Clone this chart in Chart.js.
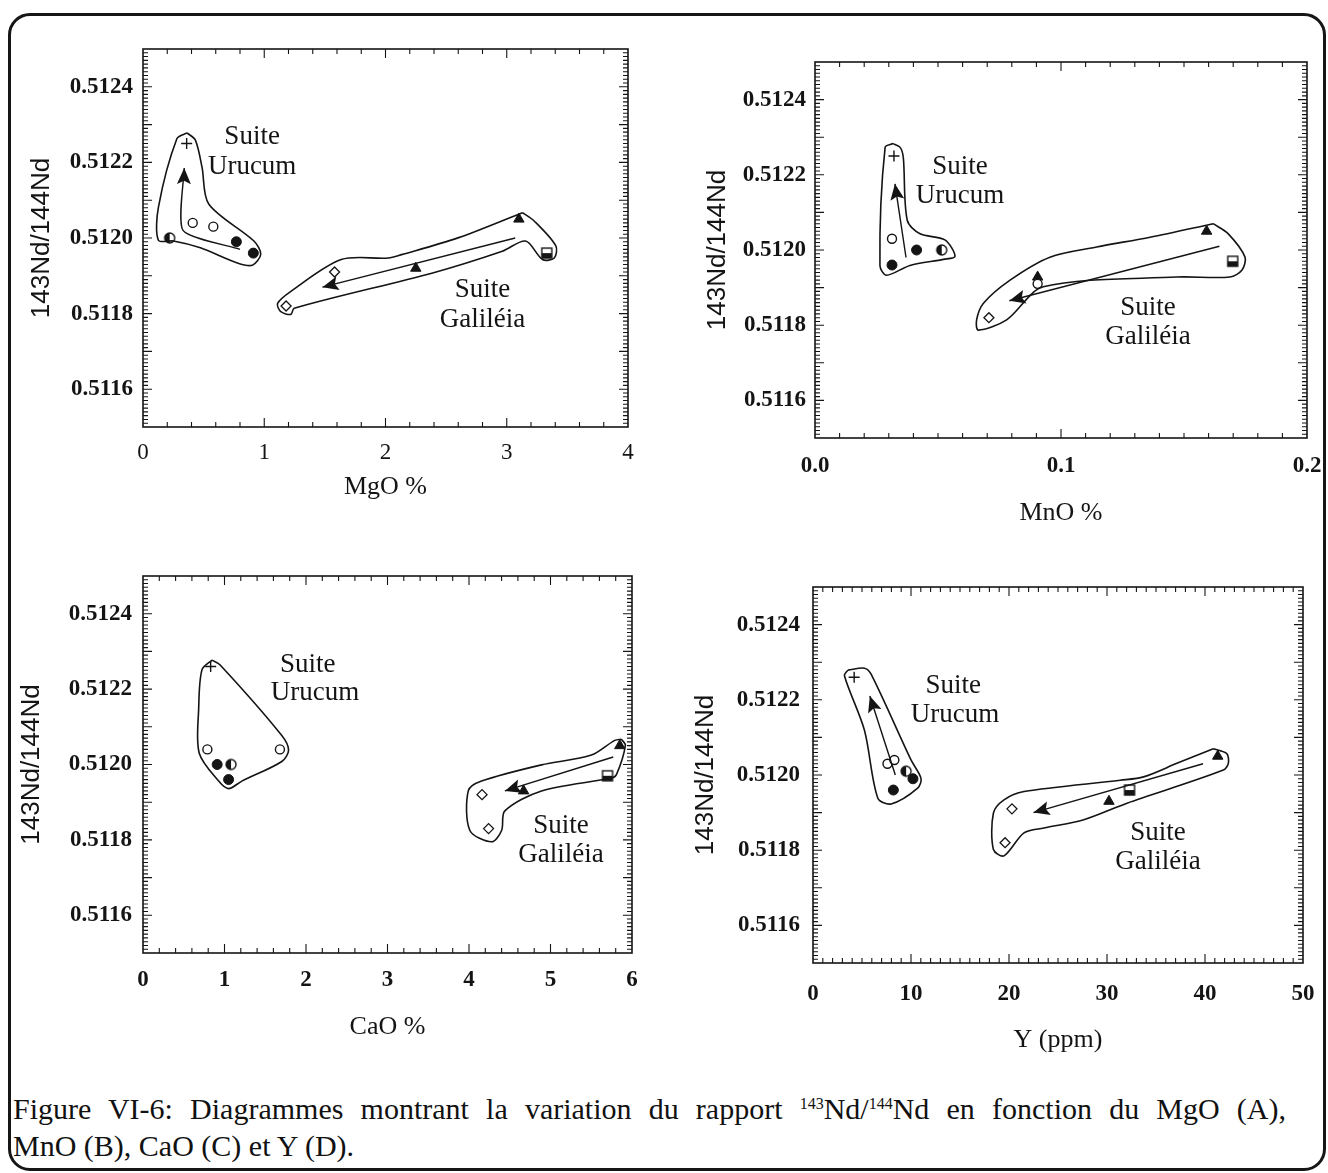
<!DOCTYPE html>
<html>
<head>
<meta charset="utf-8">
<script src="https://cdn.jsdelivr.net/npm/chart.js@4.4.1/dist/chart.umd.min.js"></script>
<style>
  html, body { margin: 0; padding: 0; background: #fff; }
  body { width: 1328px; height: 1173px; position: relative; overflow: hidden; }
  #frame { position: absolute; left: 8px; top: 13px; width: 1318px; height: 1158px;
           border: 3px solid #161616; border-radius: 22px; box-sizing: border-box; }
  canvas { position: absolute; }
  #caption { position: absolute; left: 13px; top: 1090px; color: #111; width: 1273px;
             font-family: "Liberation Serif", "Times New Roman", serif; font-size: 30px; line-height: 37px; }
  #caption .l1 { display: block; text-align: justify; text-align-last: justify; }
  #caption .l2 { display: block; }
  #caption sup { font-size: 16px; vertical-align: 10px; line-height: 0; }
</style>
</head>
<body>
<div id="frame"></div>
<canvas id="panelA"></canvas>
<canvas id="panelB"></canvas>
<canvas id="panelC"></canvas>
<canvas id="panelD"></canvas>
<div id="caption"><span class="l1">Figure VI-6: Diagrammes montrant la variation du rapport <sup>143</sup>Nd/<sup>144</sup>Nd en fonction du MgO (A),</span><span class="l2">MnO (B), CaO (C) et Y (D).</span></div>

<script>
// ---------- data ----------
const ndTicks = [0.5116, 0.5118, 0.5120, 0.5122, 0.5124];

// (A) MgO %
const mgoTicks = [0, 1, 2, 3, 4];
const mgoCross    = [[0.36, 0.51225]];
const mgoOpen     = [[0.41, 0.51204], [0.58, 0.51203]];
const mgoFilled   = [[0.77, 0.51199], [0.91, 0.51196]];
const mgoHalf     = [[0.22, 0.51200]];
const mgoDiamond  = [[1.18, 0.51182], [1.58, 0.51191]];
const mgoTriangle = [[2.25, 0.51192], [3.10, 0.51205]];
const mgoSquare   = [[3.33, 0.51196]];
const mgoUrucumTrend   = [[0.80, 0.51197], [0.33, 0.51202], [0.34, 0.512185]];
const mgoGalileiaTrend = [[3.07, 0.51200], [1.48, 0.51187]];
const mgoUrucumField = [[0.363,0.512278],[0.432,0.512259],[0.487,0.512187],[0.542,0.512090],[0.915,0.511992],[0.971,0.511957],[0.902,0.511928],[0.778,0.511934],[0.473,0.511974],[0.251,0.511992],[0.127,0.511994],[0.127,0.512081],[0.280,0.512263]];
const mgoGalileiaField = [[3.129,0.512067],[3.226,0.512045],[3.405,0.511979],[3.392,0.511947],[3.295,0.511943],[3.156,0.511992],[2.963,0.511965],[2.382,0.511907],[1.247,0.511814],[1.220,0.511798],[1.137,0.511805],[1.110,0.511827],[1.220,0.511859],[1.635,0.511943],[2.022,0.511947],[2.133,0.511956],[2.603,0.512001]];
const mgoNotes = [[0.90, 0.512267, 'Suite'], [0.90, 0.512188, 'Urucum'], [2.80, 0.511862, 'Suite'], [2.80, 0.511783, 'Galiléia']];

// (B) MnO %
const mnoTicks = [0.0, 0.1, 0.2];
const mnoCross    = [[0.0321, 0.51225]];
const mnoOpen     = [[0.0313, 0.51203], [0.0905, 0.51191]];
const mnoFilled   = [[0.0313, 0.51196], [0.0413, 0.51200]];
const mnoHalf     = [[0.0515, 0.51200]];
const mnoDiamond  = [[0.0707, 0.51182]];
const mnoTriangle = [[0.0905, 0.511928], [0.1592, 0.51205]];
const mnoSquare   = [[0.1698, 0.51197]];
const mnoUrucumTrend   = [[0.0370, 0.51198], [0.0325, 0.512176]];
const mnoGalileiaTrend = [[0.1644, 0.51201], [0.0790, 0.511865]];
const mnoUrucumField = [[0.0318,0.512283],[0.0346,0.512273],[0.0359,0.512246],[0.0375,0.512079],[0.0427,0.512043],[0.0528,0.512027],[0.0569,0.511983],[0.0522,0.511975],[0.0386,0.511959],[0.0291,0.511933],[0.0264,0.511959],[0.0285,0.512273]];
const mnoGalileiaField = [[0.1619,0.512070],[0.1680,0.512043],[0.1748,0.511981],[0.1735,0.511946],[0.1687,0.511928],[0.1470,0.511928],[0.0928,0.511902],[0.0779,0.511814],[0.0664,0.511787],[0.0657,0.511814],[0.0684,0.511858],[0.0793,0.511920],[0.0955,0.511981],[0.1145,0.512008],[0.1362,0.512034]];
const mnoNotes = [[0.0589, 0.512221, 'Suite'], [0.0589, 0.512144, 'Urucum'], [0.1354, 0.511846, 'Suite'], [0.1354, 0.511769, 'Galiléia']];

// (C) CaO %
const caoTicks = [0, 1, 2, 3, 4, 5, 6];
const caoCross    = [[0.83, 0.51226]];
const caoOpen     = [[0.79, 0.51204], [1.68, 0.51204]];
const caoFilled   = [[0.91, 0.51200], [1.05, 0.51196]];
const caoHalf     = [[1.08, 0.51200]];
const caoDiamond  = [[4.16, 0.51192], [4.24, 0.51183]];
const caoTriangle = [[4.67, 0.51193], [5.85, 0.51205]];
const caoSquare   = [[5.70, 0.51197]];
const caoUrucumTrend   = [];
const caoGalileiaTrend = [[5.77, 0.51202], [4.44, 0.51193]];
const caoUrucumField = [[0.846,0.512277],[0.947,0.512264],[1.703,0.512077],[1.786,0.512038],[1.703,0.512008],[1.213,0.511956],[1.050,0.511936],[0.928,0.511956],[0.690,0.512030],[0.683,0.512147],[0.723,0.512251]];
const caoGalileiaField = [[5.870,0.512067],[5.919,0.512051],[5.809,0.511973],[5.748,0.511964],[4.890,0.511930],[4.440,0.511877],[4.400,0.511825],[4.277,0.511795],[4.011,0.511825],[3.991,0.511930],[4.154,0.511956],[4.890,0.511999],[5.502,0.512025],[5.788,0.512064]];
const caoNotes = [[2.02, 0.512264, 'Suite'], [2.11, 0.512190, 'Urucum'], [5.13, 0.511837, 'Suite'], [5.13, 0.511760, 'Galiléia']];

// (D) Y (ppm)
const yppmTicks = [0, 10, 20, 30, 40, 50];
const yppmCross    = [[4.2, 0.51226]];
const yppmOpen     = [[7.6, 0.51203], [8.3, 0.51204]];
const yppmFilled   = [[8.2, 0.51196], [10.2, 0.51199]];
const yppmHalf     = [[9.5, 0.51201]];
const yppmDiamond  = [[20.3, 0.51191], [19.6, 0.51182]];
const yppmTriangle = [[30.2, 0.51193], [41.3, 0.51205]];
const yppmSquare   = [[32.3, 0.51196]];
const yppmUrucumTrend   = [[8.4, 0.51200], [5.8, 0.51221]];
const yppmGalileiaTrend = [[39.8, 0.51203], [22.5, 0.51190]];
const yppmUrucumField = [[3.56,0.512279],[5.25,0.512284],[5.93,0.512268],[10.00,0.512040],[11.02,0.511991],[10.68,0.511965],[7.97,0.511923],[6.61,0.511939],[5.25,0.512119],[3.21,0.512264]];
const yppmGalileiaField = [[40.85,0.512070],[42.22,0.512057],[42.38,0.512031],[41.87,0.512013],[32.04,0.511925],[27.63,0.511881],[23.56,0.511859],[21.53,0.511846],[19.49,0.511785],[18.41,0.511802],[18.41,0.511899],[19.49,0.511934],[21.53,0.511956],[31.36,0.511986],[33.73,0.511995],[37.13,0.512031]];
const yppmNotes = [[14.3, 0.512237, 'Suite'], [14.5, 0.512160, 'Urucum'], [35.2, 0.511846, 'Suite'], [35.2, 0.511769, 'Galiléia']];

// ---------- styling ----------
const ink = '#141414';
const SERIF = '"Liberation Serif", "Times New Roman", serif';
const SANS = '"Liberation Sans", Arial, sans-serif';

function markerImage(draw) {
  const c = document.createElement('canvas');
  c.width = c.height = 14;
  const g = c.getContext('2d');
  g.strokeStyle = ink; g.fillStyle = ink; g.lineWidth = 1.4;
  draw(g);
  return c;
}
const halfCircle = markerImage(g => {
  g.beginPath(); g.arc(7, 7, 5, 0, Math.PI * 2); g.fillStyle = '#fff'; g.fill();
  g.beginPath(); g.arc(7, 7, 5, Math.PI / 2, Math.PI * 1.5); g.closePath(); g.fillStyle = ink; g.fill();
  g.beginPath(); g.arc(7, 7, 5, 0, Math.PI * 2); g.stroke();
});
const halfSquare = markerImage(g => {
  g.fillStyle = '#fff'; g.fillRect(2, 2, 10, 10);
  g.fillStyle = ink; g.fillRect(2, 7, 10, 5);
  g.strokeRect(2, 2, 10, 10);
});

const markerStyle = {
  cross:    { pointStyle: 'cross', pointRadius: 5.5, borderWidth: 1.4, borderColor: ink },
  open:     { pointStyle: 'circle', pointRadius: 4.5, borderWidth: 1.4, borderColor: ink, backgroundColor: '#fff' },
  filled:   { pointStyle: 'circle', pointRadius: 5, borderWidth: 1, borderColor: ink, backgroundColor: ink },
  half:     { pointStyle: halfCircle, pointRadius: 5 },
  diamond:  { pointStyle: 'rectRot', pointRadius: 5, borderWidth: 1.3, borderColor: ink, backgroundColor: '#fff' },
  triangle: { pointStyle: 'triangle', pointRadius: 6, borderWidth: 1, borderColor: ink, backgroundColor: ink },
  square:   { pointStyle: halfSquare, pointRadius: 5 }
};

const toPts = a => a.map(p => ({ x: p[0], y: p[1] }));
const closed = a => a.concat([a[0]]);

// per-canvas extras read by plugins
const extras = {};

// box border + inward ticks on the four sides
const insideTicks = {
  id: 'insideTicks',
  afterDraw(chart) {
    const o = extras[chart.canvas.id];
    const { ctx, chartArea: a, scales: { x, y } } = chart;
    const marks = (s, minor, major) => {
      const out = [];
      const n = Math.round((s.max - s.min) / minor);
      for (let i = 1; i < n; i++) {
        const v = s.min + i * minor;
        const q = v / major;
        out.push({ p: s.getPixelForValue(v), big: Math.abs(q - Math.round(q)) < 0.01 });
      }
      return out;
    };
    ctx.save();
    ctx.strokeStyle = ink;
    ctx.lineWidth = 1.6;
    ctx.strokeRect(a.left, a.top, a.right - a.left, a.bottom - a.top);
    ctx.lineWidth = 1.1;
    ctx.beginPath();
    marks(x, o.xMinor, o.xMajor).forEach(m => {
      const l = m.big ? 9 : 5;
      ctx.moveTo(m.p, a.bottom); ctx.lineTo(m.p, a.bottom - l);
      ctx.moveTo(m.p, a.top);    ctx.lineTo(m.p, a.top + l);
    });
    marks(y, 0.00001, 0.0001).forEach(m => {
      const l = m.big ? 9 : 5;
      ctx.moveTo(a.left, m.p);  ctx.lineTo(a.left + l, m.p);
      ctx.moveTo(a.right, m.p); ctx.lineTo(a.right - l, m.p);
    });
    ctx.stroke();
    ctx.restore();
  }
};

// arrowheads at the end of trend lines
const arrowHeads = {
  id: 'arrowHeads',
  afterDatasetsDraw(chart) {
    const ctx = chart.ctx;
    chart.data.datasets.forEach((ds, i) => {
      if (!ds.arrow) return;
      const pts = chart.getDatasetMeta(i).data;
      if (pts.length < 2) return;
      const p1 = pts[pts.length - 2], p2 = pts[pts.length - 1];
      const ang = Math.atan2(p2.y - p1.y, p2.x - p1.x);
      const len = 16, half = 7;
      ctx.save();
      ctx.translate(p2.x, p2.y);
      ctx.rotate(ang);
      ctx.beginPath();
      ctx.moveTo(0, 0);
      ctx.lineTo(-len, -half);
      ctx.lineTo(-len * 0.8, 0);
      ctx.lineTo(-len, half);
      ctx.closePath();
      ctx.fillStyle = ink;
      ctx.fill();
      ctx.restore();
    });
  }
};

// "Suite Urucum" / "Suite Galiléia" labels
const noteText = {
  id: 'noteText',
  afterDatasetsDraw(chart) {
    const o = extras[chart.canvas.id];
    const { ctx, scales: { x, y } } = chart;
    ctx.save();
    ctx.fillStyle = ink;
    ctx.font = '27px ' + SERIF;
    ctx.textAlign = 'center';
    ctx.textBaseline = 'middle';
    o.notes.forEach(n => ctx.fillText(n[2], x.getPixelForValue(n[0]), y.getPixelForValue(n[1])));
    ctx.restore();
  }
};

// keep the plot box where the layout puts it: no extra room for edge labels
const noEdgePadding = s => {
  s.paddingLeft = 0; s.paddingRight = 0; s.paddingTop = 0; s.paddingBottom = 0;
};

function makePanel(p) {
  const cv = document.getElementById(p.id);
  const b = p.box;
  cv.style.left = (b.l - 130) + 'px';
  cv.style.top = (b.t - 20) + 'px';
  cv.width = b.r - b.l + 150;
  cv.height = b.b - b.t + 120;
  extras[p.id] = { xMinor: p.xMinor, xMajor: p.xMajor, notes: p.notes };

  const line = (pts, extra) => Object.assign({
    data: toPts(pts), showLine: true, pointRadius: 0, pointHoverRadius: 0,
    borderColor: ink, borderWidth: 1.6, fill: false
  }, extra);
  const marker = (pts, kind) => Object.assign({ data: toPts(pts), showLine: false }, markerStyle[kind],
    { pointHoverRadius: markerStyle[kind].pointRadius });

  const datasets = [
    line(closed(p.uruField), { tension: 0.3 }),
    line(closed(p.galField), { tension: 0.3 }),
    line(p.uruTrend, { tension: 0.2, arrow: true, borderWidth: 1.4 }),
    line(p.galTrend, { tension: 0, arrow: true, borderWidth: 1.4 }),
    marker(p.cross, 'cross'),
    marker(p.open, 'open'),
    marker(p.filled, 'filled'),
    marker(p.half, 'half'),
    marker(p.diamond, 'diamond'),
    marker(p.triangle, 'triangle'),
    marker(p.square, 'square')
  ];

  new Chart(cv, {
    type: 'scatter',
    data: { datasets },
    plugins: [insideTicks, arrowHeads, noteText],
    options: {
      responsive: false, animation: false, events: [],
      devicePixelRatio: 1,
      layout: { padding: { top: 20, right: 20, left: 0, bottom: 0 } },
      plugins: { legend: { display: false }, tooltip: { enabled: false } },
      scales: {
        x: {
          type: 'linear', position: 'bottom', min: p.xTicks[0], max: p.xTicks[p.xTicks.length - 1],
          afterBuildTicks: s => { s.ticks = p.xTicks.map(v => ({ value: v })); },
          afterFit: s => { s.height = 100; noEdgePadding(s); },
          grid: { display: false, drawTicks: false }, border: { display: false },
          ticks: { color: ink, padding: p.xPad, maxRotation: 0, autoSkip: false,
                   font: { family: SERIF, size: 23, weight: p.xBold ? 'bold' : 'normal' },
                   callback: v => p.xFmt(v) },
          title: { display: true, text: p.xTitle, color: ink,
                   font: { family: SERIF, size: 26 }, padding: { top: 0, bottom: p.xTitlePad } }
        },
        y: {
          type: 'linear', position: 'left', min: 0.5115, max: 0.5125,
          afterBuildTicks: s => { s.ticks = ndTicks.map(v => ({ value: v })); },
          afterFit: s => { s.width = 130; noEdgePadding(s); },
          grid: { display: false, drawTicks: false }, border: { display: false },
          ticks: { color: ink, padding: p.yPad, autoSkip: false,
                   font: { family: SERIF, size: 23, weight: 'bold' },
                   callback: v => v.toFixed(4) },
          title: { display: true, text: '143Nd/144Nd', color: ink,
                   font: { family: SANS, size: 26 }, padding: { top: p.yTitlePad, bottom: 0 } }
        }
      }
    }
  });
}

makePanel({
  id: 'panelA', box: { l: 143, t: 49, r: 628, b: 427 },
  xTicks: mgoTicks, xFmt: v => String(v), xMinor: 0.2, xMajor: 1, xBold: false,
  xTitle: 'MgO %', xPad: 12, xTitlePad: 24, yPad: 10, yTitlePad: 13,
  cross: mgoCross, open: mgoOpen, filled: mgoFilled, half: mgoHalf, diamond: mgoDiamond,
  triangle: mgoTriangle, square: mgoSquare, uruTrend: mgoUrucumTrend, galTrend: mgoGalileiaTrend,
  uruField: mgoUrucumField, galField: mgoGalileiaField, notes: mgoNotes
});
makePanel({
  id: 'panelB', box: { l: 815, t: 62, r: 1307, b: 438 },
  xTicks: mnoTicks, xFmt: v => v.toFixed(1), xMinor: 0.01, xMajor: 0.1, xBold: true,
  xTitle: 'MnO %', xPad: 14, xTitlePad: 9, yPad: 9, yTitlePad: 17,
  cross: mnoCross, open: mnoOpen, filled: mnoFilled, half: mnoHalf, diamond: mnoDiamond,
  triangle: mnoTriangle, square: mnoSquare, uruTrend: mnoUrucumTrend, galTrend: mnoGalileiaTrend,
  uruField: mnoUrucumField, galField: mnoGalileiaField, notes: mnoNotes
});
makePanel({
  id: 'panelC', box: { l: 143, t: 576, r: 632, b: 953 },
  xTicks: caoTicks, xFmt: v => String(v), xMinor: 0.2, xMajor: 1, xBold: true,
  xTitle: 'CaO %', xPad: 13, xTitlePad: 10, yPad: 11, yTitlePad: 3,
  cross: caoCross, open: caoOpen, filled: caoFilled, half: caoHalf, diamond: caoDiamond,
  triangle: caoTriangle, square: caoSquare, uruTrend: caoUrucumTrend, galTrend: caoGalileiaTrend,
  uruField: caoUrucumField, galField: caoGalileiaField, notes: caoNotes
});
makePanel({
  id: 'panelD', box: { l: 813, t: 587, r: 1303, b: 963 },
  xTicks: yppmTicks, xFmt: v => String(v), xMinor: 1, xMajor: 10, xBold: true,
  xTitle: 'Y (ppm)', xPad: 17, xTitlePad: 7, yPad: 13, yTitlePad: 7,
  cross: yppmCross, open: yppmOpen, filled: yppmFilled, half: yppmHalf, diamond: yppmDiamond,
  triangle: yppmTriangle, square: yppmSquare, uruTrend: yppmUrucumTrend, galTrend: yppmGalileiaTrend,
  uruField: yppmUrucumField, galField: yppmGalileiaField, notes: yppmNotes
});
</script>
</body>
</html>
